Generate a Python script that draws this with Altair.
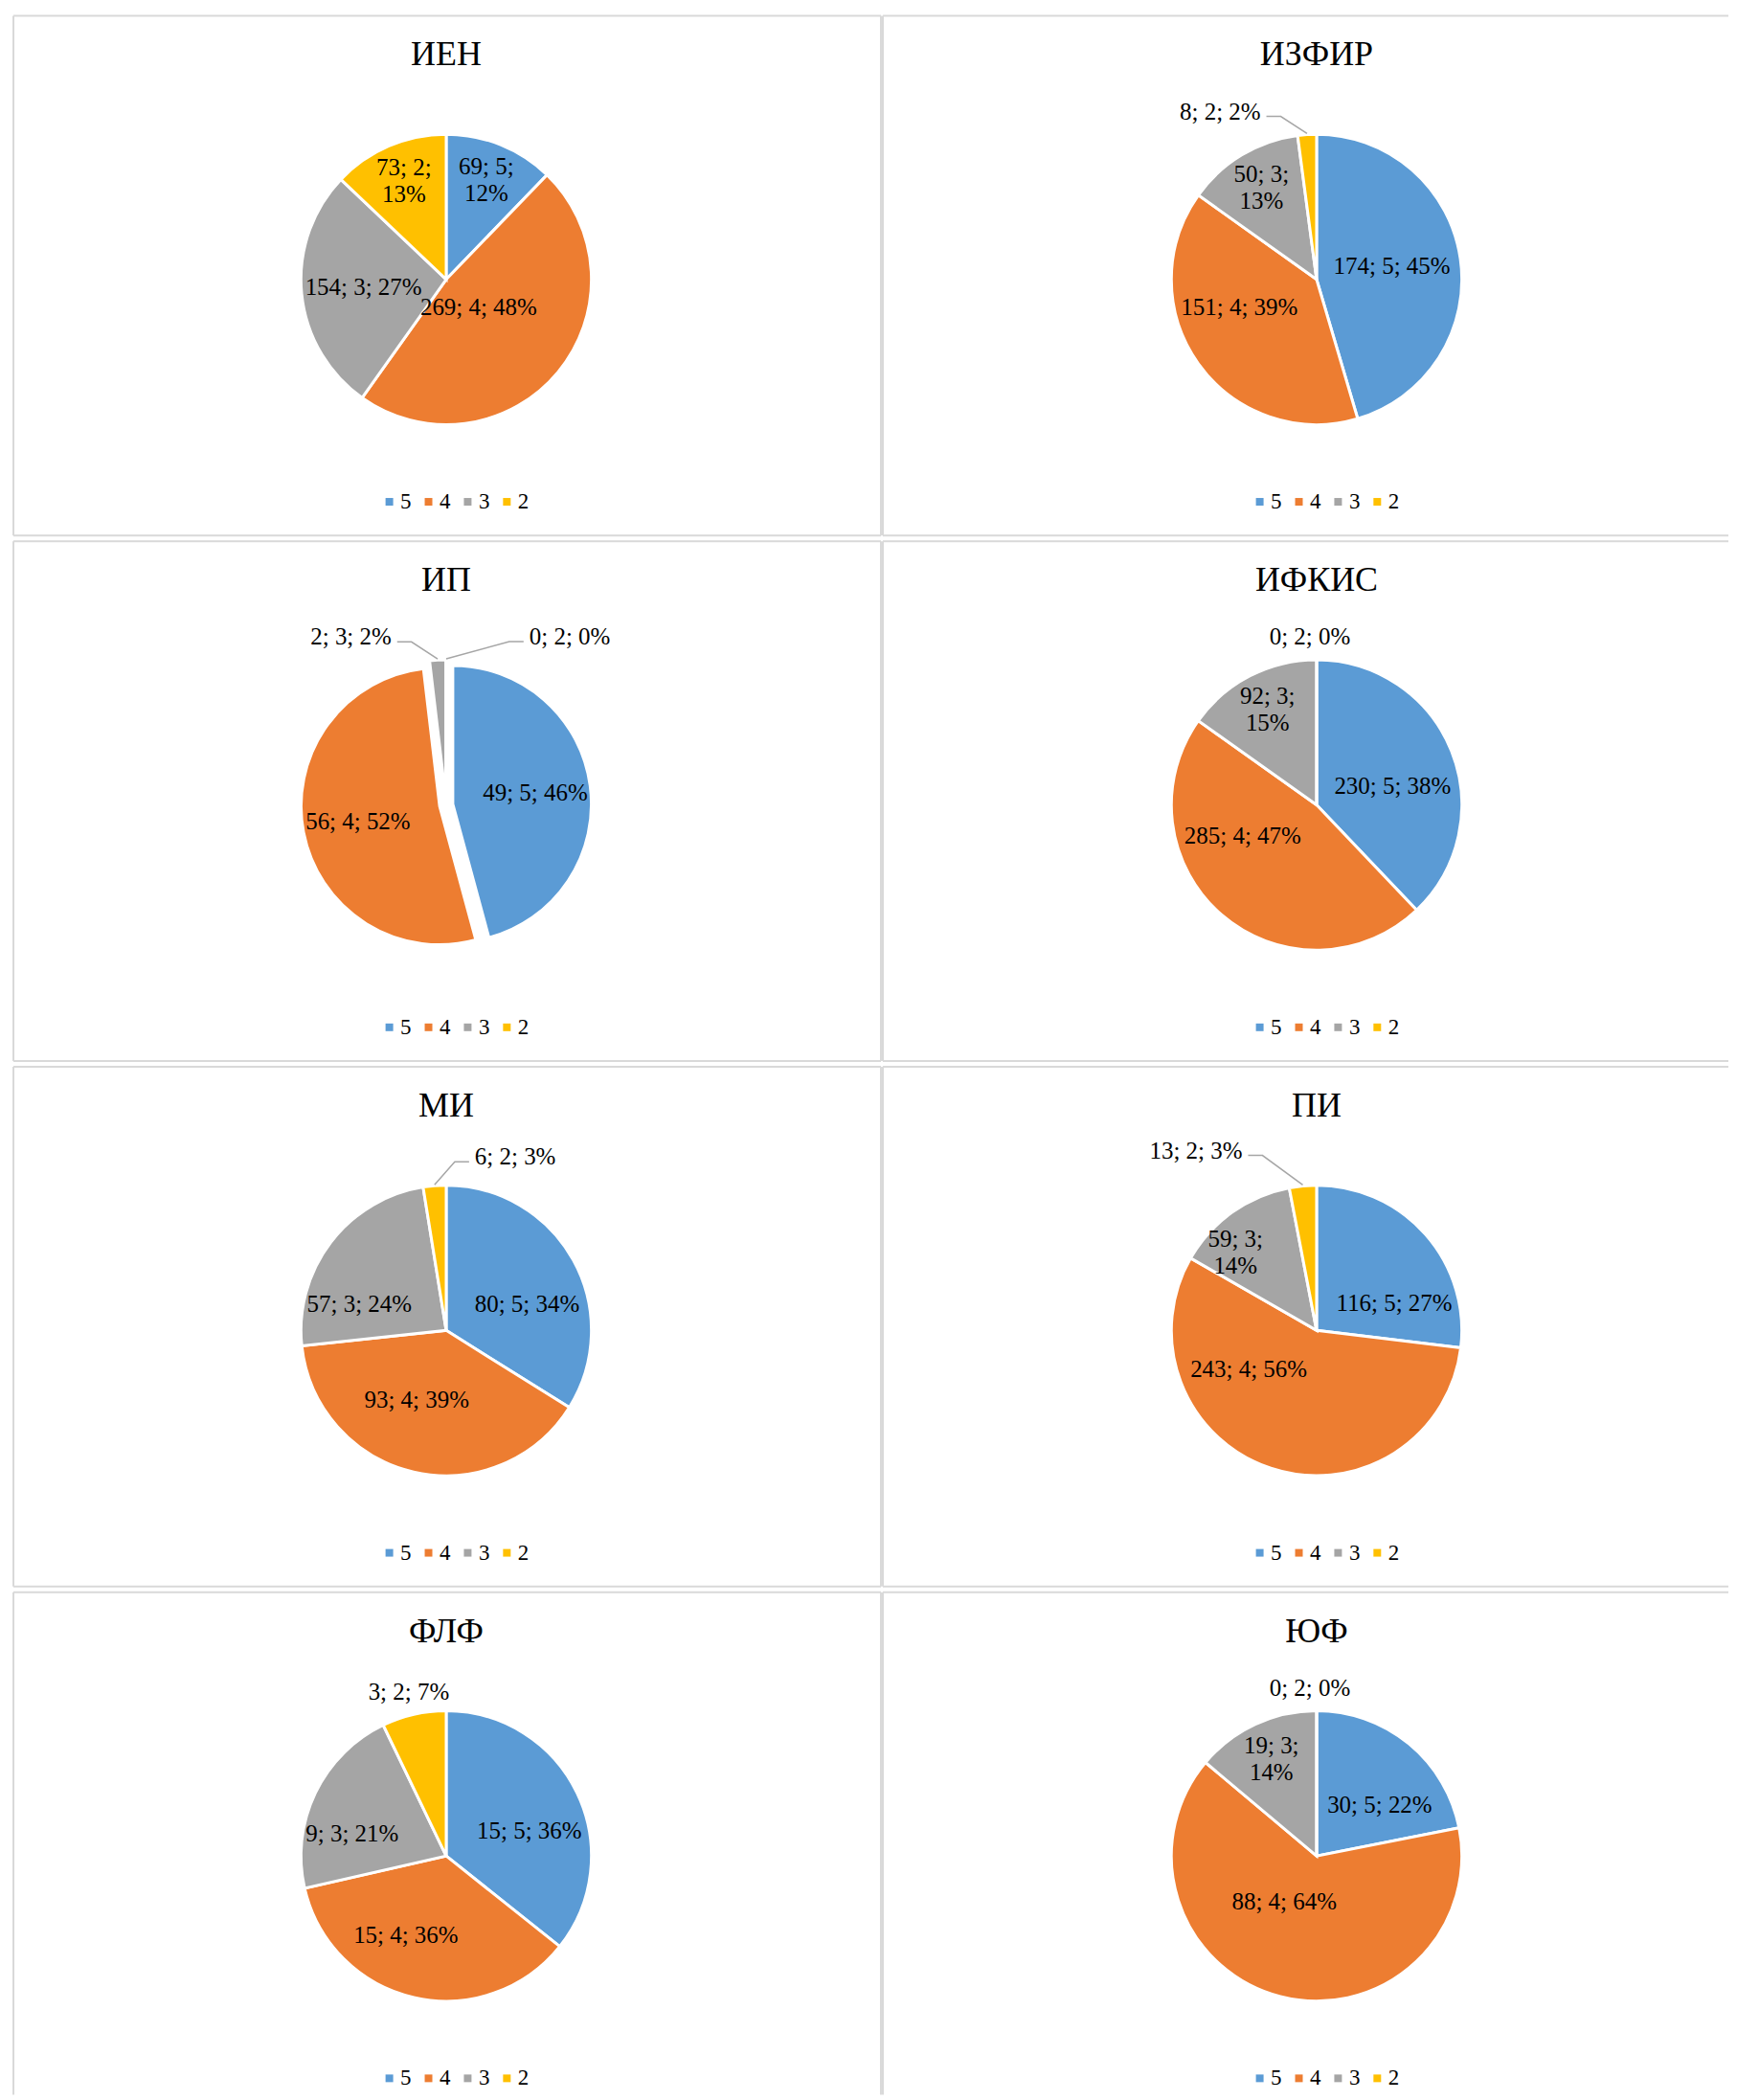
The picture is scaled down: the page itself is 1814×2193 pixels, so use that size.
import math
import altair as alt
import pandas as pd

# ---------------- data ----------------
FACULTIES = ["ИЕН", "ИЗФИР", "ИП", "ИФКИС", "МИ", "ПИ", "ФЛФ", "ЮФ"]
GRADES = ["5", "4", "3", "2"]
IEN = [69, 269, 154, 73]
IZFIR = [174, 151, 50, 8]
IP = [49, 56, 2, 0]
IFKIS = [230, 285, 92, 0]
MI = [80, 93, 57, 6]
PI = [116, 243, 59, 13]
FLF = [15, 15, 9, 3]
YUF = [30, 88, 19, 0]
COUNTS = [IEN, IZFIR, IP, IFKIS, MI, PI, FLF, YUF]

# ---------------- style ----------------
COLORS = ["#5B9BD5", "#ED7D31", "#A5A5A5", "#FFC000"]
BORDER = "#D9D9D9"
FONT = "Liberation Serif"
PANEL_W = [908, 885]          # left / right column widths
PANEL_CX = [453, 454]         # pie centre inside each column
ROW_H = [544, 544, 544, 526]  # last row runs off the page bottom
CY = 276
TITLE_Y = 52
R = 152
EXPLODE = {"ИП": 7}
R_EXPLODED = 145
R_IN_SINGLE = 87
R_IN_WRAP = 112
R_OUT = R + 24
LABEL_SIZE = 25
LINE_H = 28
OUT_THRESHOLD = 10      # percent below which the label sits outside
WRAP_THRESHOLD = 16     # percent below which the inside label wraps
# "best fit" placement of some inside labels: (radius, angle in degrees clockwise from 12 o'clock)
LABEL_POLAR = {("ИЕН", "4"): (45, 131), ("ИЗФИР", "4"): (86, 250),
               ("ИЗФИР", "5"): (80, 80), ("ИФКИС", "5"): (82, 76),
               ("ИФКИС", "4"): (84, 247), ("МИ", "5"): (89, 72),
               ("МИ", "4"): (79, 203), ("МИ", "3"): (95, 287),
               ("ПИ", "5"): (86, 71), ("ПИ", "4"): (82, 240),
               ("ПИ", "3"): (118, 314), ("ФЛФ", "5"): (91, 73),
               ("ФЛФ", "4"): (93, 207), ("ФЛФ", "3"): (101, 283),
               ("ЮФ", "5"): (85, 51), ("ЮФ", "4"): (59, 215)}
# outside labels: (horizontal nudge of the text's inner edge, vertical nudge)
OUT_NUDGE = {("ИЗФИР", "2"): (-47, 0), ("ИП", "3"): (-47, 0), ("ИП", "2"): (87, 0),
             ("МИ", "2"): (44, -6), ("ПИ", "2"): (-61, -13), ("ИФКИС", "2"): (-7, 0),
             ("ЮФ", "2"): (-7, 0), ("ФЛФ", "2"): (0, 0)}
LEADER_MIN_NUDGE = 20


def panel(name, counts, W, H, cx, sides):
    total = sum(counts)
    ex = EXPLODE.get(name, 0)
    r = R_EXPLODED if ex else R
    rows, leaders = [], []
    cum = 0
    for g, v in zip(GRADES, counts):
        start, end = cum, cum + v
        cum = end
        mid = (start + end) / 2 / total * 2 * math.pi
        s, c = math.sin(mid), math.cos(mid)
        pct = int(math.floor(v / total * 100 + 0.5))
        ox, oy = cx + ex * s, CY - ex * c
        kind = "in"
        label = f"{v}; {g}; {pct}%"
        if pct < OUT_THRESHOLD:
            ndx, ndy = OUT_NUDGE.get((name, g), (0, 0))
            if abs(ndx) < LEADER_MIN_NUDGE:
                kind = "out_c"
            elif ndx < 0:
                kind = "out_r"
            else:
                kind = "out_l"
            lx = cx + R_OUT * s + ndx
            ly = CY - R_OUT * c + ndy
            if kind in ("out_r", "out_l"):
                sgn = 1 if kind == "out_r" else -1
                ex_pt = (ox + (r + 1) * s, oy - (r + 1) * c)
                pts = [(lx + sgn * 6, ly + 5), (lx + sgn * 21, ly + 5), ex_pt]
                for k, (px, py) in enumerate(pts):
                    leaders.append({"key": g, "seq": k, "px": px, "py": py})
        else:
            rr = R_IN_SINGLE
            shift = 0
            if pct < WRAP_THRESHOLD:
                kind = "wrap"
                label = f"{v}; {g};\n{pct}%"
                rr = R_IN_WRAP
                shift = -LINE_H / 2   # centre the two-line block
            ls, lc = s, c
            if (name, g) in LABEL_POLAR:
                rr, ang = LABEL_POLAR[(name, g)]
                ls, lc = math.sin(math.radians(ang)), math.cos(math.radians(ang))
            lx, ly = ox + rr * ls, oy - rr * lc + shift
        rows.append({"grade": g, "value": v, "start": start, "end": end,
                     "ox": ox, "oy": oy, "lx": lx, "ly": ly,
                     "label": label, "kind": kind})
    df = pd.DataFrame(rows)

    xs = alt.Scale(domain=[0, W], nice=False, zero=False)
    ys = alt.Scale(domain=[H, 0], nice=False, zero=False)
    base = alt.Chart(df)

    arcs = base.mark_arc(radius=r, stroke="white", strokeWidth=3).encode(
        x=alt.X("ox:Q", scale=xs, axis=None),
        y=alt.Y("oy:Q", scale=ys, axis=None),
        theta=alt.Theta("start:Q", scale=alt.Scale(domain=[0, total], range=[0, 2 * math.pi]), stack=None),
        theta2="end:Q",
        color=alt.Color("grade:N", sort=GRADES,
                        scale=alt.Scale(domain=GRADES, range=COLORS),
                        legend=alt.Legend(orient="none", legendX=cx - 71, legendY=497,
                                          direction="horizontal", title=None,
                                          symbolType="square", symbolSize=64,
                                          symbolStrokeWidth=0,
                                          labelFont=FONT, labelFontSize=23,
                                          labelColor="black", columnPadding=6,
                                          labelOffset=0, padding=0)),
    )

    def txt(kinds, align):
        return base.transform_filter(
            alt.FieldOneOfPredicate(field="kind", oneOf=kinds)
        ).mark_text(font=FONT, fontSize=LABEL_SIZE, color="black", align=align,
                    baseline="middle", lineBreak="\n", lineHeight=LINE_H).encode(
            x=alt.X("lx:Q", scale=xs, axis=None),
            y=alt.Y("ly:Q", scale=ys, axis=None),
            text="label:N",
        )

    title = alt.Chart(pd.DataFrame({"name": [name]})).mark_text(
        font=FONT, fontSize=36, color="black", align="center", baseline="alphabetic"
    ).encode(text="name:N", x=alt.value(cx), y=alt.value(TITLE_Y))

    layers = [arcs, txt(["in", "wrap", "out_c"], "center"),
              txt(["out_r"], "right"), txt(["out_l"], "left"), title]
    if leaders:
        ldf = pd.DataFrame(leaders)
        lines = alt.Chart(ldf).mark_line(color="#A6A6A6", strokeWidth=1.5).encode(
            x=alt.X("px:Q", scale=xs, axis=None),
            y=alt.Y("py:Q", scale=ys, axis=None),
            detail="key:N",
            order="seq:Q",
        )
        layers.append(lines)

    # panel frame (only the sides that are visible in the page)
    edge = {"top": dict(x=alt.value(0), x2=alt.value(W), y=alt.value(0)),
            "bottom": dict(x=alt.value(0), x2=alt.value(W), y=alt.value(H)),
            "left": dict(x=alt.value(0), y=alt.value(0), y2=alt.value(H)),
            "right": dict(x=alt.value(W), y=alt.value(0), y2=alt.value(H))}
    for sd in sides:
        layers.append(alt.Chart(pd.DataFrame({"side": [sd]}))
                      .mark_rule(color=BORDER, strokeWidth=2)
                      .encode(**edge[sd]))

    return alt.layer(*layers).properties(width=W, height=H)


rows = []
for i in range(0, len(FACULTIES), 2):
    row = i // 2
    H = ROW_H[row]
    last = row == len(ROW_H) - 1
    sides_l = ["top", "left", "right"] + ([] if last else ["bottom"])
    sides_r = ["top", "left"] + ([] if last else ["bottom"])
    left = panel(FACULTIES[i], COUNTS[i], PANEL_W[0], H, PANEL_CX[0], sides_l)
    right = panel(FACULTIES[i + 1], COUNTS[i + 1], PANEL_W[1], H, PANEL_CX[1], sides_r)
    rows.append(
        alt.hconcat(left, right, spacing=0)
        .resolve_scale(color="independent", x="independent", y="independent", theta="independent")
        .resolve_legend(color="independent")
    )

chart = (
    alt.vconcat(*rows, spacing=4)
    .resolve_scale(color="independent", x="independent", y="independent", theta="independent")
    .resolve_legend(color="independent")
    .configure_view(stroke=None)
    .properties(background="white",
                padding={"left": 5, "top": 5, "right": 0, "bottom": 0})
)

chart.save("out.html", embed_options={"renderer": "svg", "actions": False})
